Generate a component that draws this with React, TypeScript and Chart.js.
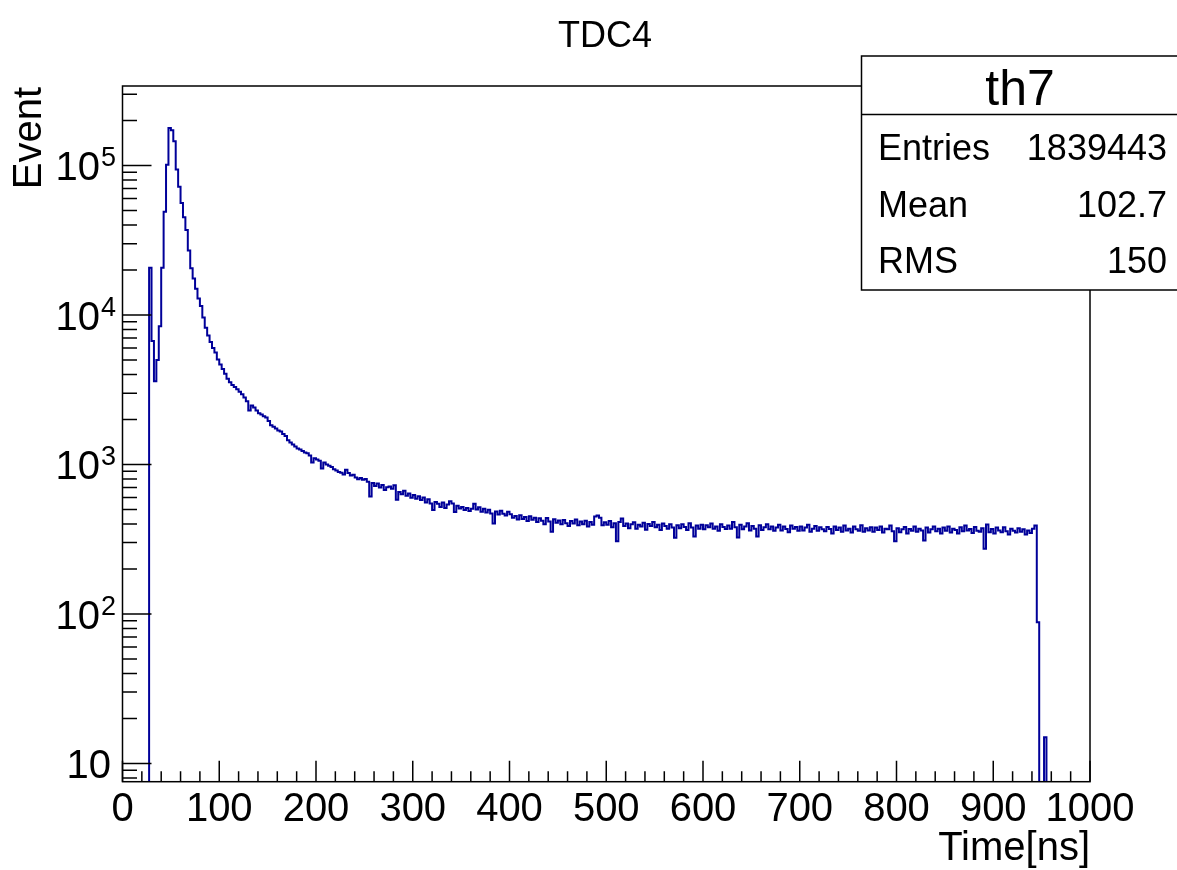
import React, { useEffect, useRef } from 'react';
import { Chart, registerables } from 'chart.js';

Chart.register(...registerables);

// ---------- data ----------
const TITLE = 'TDC4';
const X_TITLE = 'Time[ns]';
const Y_TITLE = 'Event';

const X_MIN = 0;
const X_MAX = 1000;
const N_BINS = 400;
const Y_MIN = 7.55;
const Y_MAX = 340000;

const X_MAJOR = 100;
const X_MINOR = 20;
const xTickLabels = ['0', '100', '200', '300', '400', '500', '600', '700', '800', '900', '1000'];
const yTickExponents = [1, 2, 3, 4, 5];

const statsName = 'th7';
const statsLabels = ['Entries', 'Mean', 'RMS'];
const statsValues = ['1839443', '102.7', '150'];

// counts per 2.5 ns bin (0 .. 1000 ns)
const counts = [
  0, 0, 0, 0, 0, 0, 0, 0, 0, 0,
  0, 20700, 6700, 3600, 5000, 8400, 20700, 49000, 101000, 178000,
  172000, 145000, 94000, 72000, 56000, 45000, 37000, 27000, 20500, 17500,
  15000, 12900, 11500, 9600, 8200, 7300, 6600, 6000, 5600, 5030,
  4670, 4350, 4050, 3750, 3550, 3400, 3300, 3180, 3060, 2950,
  2800, 2650, 2300, 2480, 2400, 2300, 2200, 2160, 2100, 2060,
  1950, 1830, 1790, 1740, 1690, 1660, 1600, 1550, 1450, 1400,
  1360, 1320, 1280, 1260, 1230, 1200, 1190, 1150, 1030, 1100,
  1080, 1060, 940, 1030, 1000, 980, 960, 930, 910, 890,
  880, 858, 920, 875, 842, 852, 818, 795, 812, 790,
  800, 765, 610, 752, 718, 745, 700, 728, 676, 705,
  712, 688, 726, 580, 655, 632, 668, 618, 640, 598,
  625, 590, 612, 578, 602, 556, 585, 548, 496, 560,
  545, 520, 556, 512, 540, 568, 548, 481, 530, 508,
  520, 495, 512, 488, 505, 545, 500, 518, 482, 505,
  478, 498, 470, 402, 485, 462, 490, 468, 455, 482,
  465, 440, 452, 428, 458, 432, 445, 418, 450, 426,
  440, 412, 436, 420, 398, 438, 415, 355, 430, 408,
  422, 398, 425, 405, 388, 418, 402, 428, 392, 415,
  398, 420, 385, 412, 395, 448, 455, 440, 392, 410,
  395, 418, 380, 405, 306, 412, 435, 388, 402, 375,
  398, 410, 372, 395, 385, 408, 366, 400, 388, 412,
  380, 395, 365, 402, 388, 372, 398, 378, 323, 392,
  375, 398, 382, 365, 405, 378, 330, 390, 372, 395,
  368, 392, 380, 402, 372, 385, 360, 398, 382, 370,
  390, 372, 412, 380, 325, 395, 368, 385, 405, 362,
  388, 372, 330, 392, 365, 380, 398, 368, 385, 360,
  378, 395, 362, 385, 370, 352, 390, 372, 382, 360,
  385, 362, 378, 395, 355, 372, 388, 360, 380, 368,
  358, 382, 370, 345, 385, 365, 378, 355, 390, 362,
  372, 350, 385, 368, 360, 392, 355, 375, 362, 380,
  355, 378, 365, 385, 350, 372, 368, 390, 358, 306,
  375, 352, 368, 382, 345, 370, 360, 385, 355, 372,
  362, 310, 378, 350, 368, 385, 358, 372, 345, 378,
  360, 385, 350, 372, 365, 345, 380, 358, 390, 362,
  370, 348, 382, 360, 355, 375, 273, 397, 352, 370,
  345, 378, 362, 352, 380, 358, 340, 372, 360, 350,
  375, 355, 368, 340, 362, 348, 372, 390, 88, 0,
  0, 15, 0, 0, 0, 0, 0, 0, 0, 0,
  0, 0, 0, 0, 0, 0, 0, 0, 0, 0,
];

// ---------- style ----------
const LINE_COLOR = '#000099';
const FONT = '"Liberation Sans", Arial, Helvetica, sans-serif';

const rootStylePlugin = {
  id: 'rootStyle',
  afterDatasetsDraw(chart: any) {
    const { ctx, chartArea: a, scales } = chart;
    const xs = scales.x;
    const ys = scales.y;
    ctx.save();
    ctx.strokeStyle = '#000';
    ctx.fillStyle = '#000';
    ctx.lineWidth = 1.5;

    // frame
    ctx.strokeRect(a.left, a.top, a.right - a.left, a.bottom - a.top);

    // x ticks
    ctx.beginPath();
    for (let v = X_MIN; v <= X_MAX + 1e-9; v += X_MINOR) {
      const px = xs.getPixelForValue(v);
      const len = Math.abs(v % X_MAJOR) < 1e-9 ? 21 : 10.5;
      ctx.moveTo(px, a.bottom);
      ctx.lineTo(px, a.bottom - len);
    }
    // y ticks (log)
    for (let d = 0; d <= 6; d++) {
      for (let k = 1; k <= 9; k++) {
        const v = k * Math.pow(10, d);
        if (v < Y_MIN || v > Y_MAX) continue;
        const py = ys.getPixelForValue(v);
        const len = k === 1 ? 29 : 14.5;
        ctx.moveTo(a.left, py);
        ctx.lineTo(a.left + len, py);
      }
    }
    ctx.stroke();

    // x tick labels
    ctx.font = `40px ${FONT}`;
    ctx.textAlign = 'center';
    ctx.textBaseline = 'alphabetic';
    xTickLabels.forEach((lab) => {
      const px = xs.getPixelForValue(Number(lab));
      ctx.fillText(lab, px, 821);
    });

    // y tick labels
    yTickExponents.forEach((e) => {
      const py = ys.getPixelForValue(Math.pow(10, e));
      if (e === 1) {
        ctx.font = `40px ${FONT}`;
        ctx.textAlign = 'right';
        ctx.fillText('10', 111, py + 15);
      } else {
        ctx.font = `40px ${FONT}`;
        ctx.textAlign = 'right';
        ctx.fillText('10', 100, py + 15);
        ctx.font = `27px ${FONT}`;
        ctx.textAlign = 'left';
        ctx.fillText(String(e), 101, py + 1);
      }
    });

    // title
    ctx.font = `36px ${FONT}`;
    ctx.textAlign = 'center';
    ctx.fillText(TITLE, 605, 47);

    // x axis title
    ctx.font = `40px ${FONT}`;
    ctx.textAlign = 'right';
    ctx.fillText(X_TITLE, a.right, 860);

    // y axis title
    ctx.save();
    ctx.translate(41, a.top + 1);
    ctx.rotate(-Math.PI / 2);
    ctx.textAlign = 'right';
    ctx.fillText(Y_TITLE, 0, 0);
    ctx.restore();

    // stats box
    const bx = 861.5, by = 56, bw = 330, bh = 234;
    ctx.fillStyle = '#fff';
    ctx.fillRect(bx, by, bw, bh);
    ctx.strokeStyle = '#000';
    ctx.lineWidth = 1.5;
    ctx.strokeRect(bx, by, bw, bh);
    ctx.beginPath();
    ctx.moveTo(bx, 114.5);
    ctx.lineTo(bx + bw, 114.5);
    ctx.stroke();
    ctx.fillStyle = '#000';
    ctx.font = `50px ${FONT}`;
    ctx.textAlign = 'center';
    ctx.fillText(statsName, 1020, 105);
    ctx.font = `36px ${FONT}`;
    const rowBase = [160, 217, 273];
    statsLabels.forEach((lab, i) => {
      ctx.textAlign = 'left';
      ctx.fillText(lab, 878, rowBase[i]);
      ctx.textAlign = 'right';
      ctx.fillText(statsValues[i], 1167, rowBase[i]);
    });

    ctx.restore();
  },
};

export default function App() {
  const ref = useRef<HTMLCanvasElement | null>(null);

  useEffect(() => {
    if (!ref.current) return;
    const binWidth = (X_MAX - X_MIN) / N_BINS;
    const points = counts.map((c, i) => ({
      x: X_MIN + i * binWidth,
      y: c > 0 ? c : Y_MIN / 10,
    }));
    const last = counts[counts.length - 1];
    points.push({ x: X_MAX, y: last > 0 ? last : Y_MIN / 10 });

    const chart = new Chart(ref.current, {
      type: 'line',
      data: {
        datasets: [
          {
            label: statsName,
            data: points,
            stepped: 'before',
            borderColor: LINE_COLOR,
            borderWidth: 2,
            pointRadius: 0,
            fill: false,
            tension: 0,
            borderJoinStyle: 'miter',
          },
        ],
      },
      options: {
        responsive: false,
        animation: false,
        events: [],
        layout: { padding: { left: 122.5, right: 87, top: 86, bottom: 88.3 } },
        plugins: {
          legend: { display: false },
          title: { display: false },
          tooltip: { enabled: false },
        },
        scales: {
          x: { type: 'linear', min: X_MIN, max: X_MAX, display: false },
          y: { type: 'logarithmic', min: Y_MIN, max: Y_MAX, display: false },
        },
      },
      plugins: [rootStylePlugin],
    });
    return () => chart.destroy();
  }, []);

  return (
    <div style={{ position: 'fixed', left: 0, top: 0, width: 1177, height: 870, background: '#fff' }}>
      <canvas ref={ref} width={1177} height={870} style={{ width: 1177, height: 870 }} />
    </div>
  );
}
